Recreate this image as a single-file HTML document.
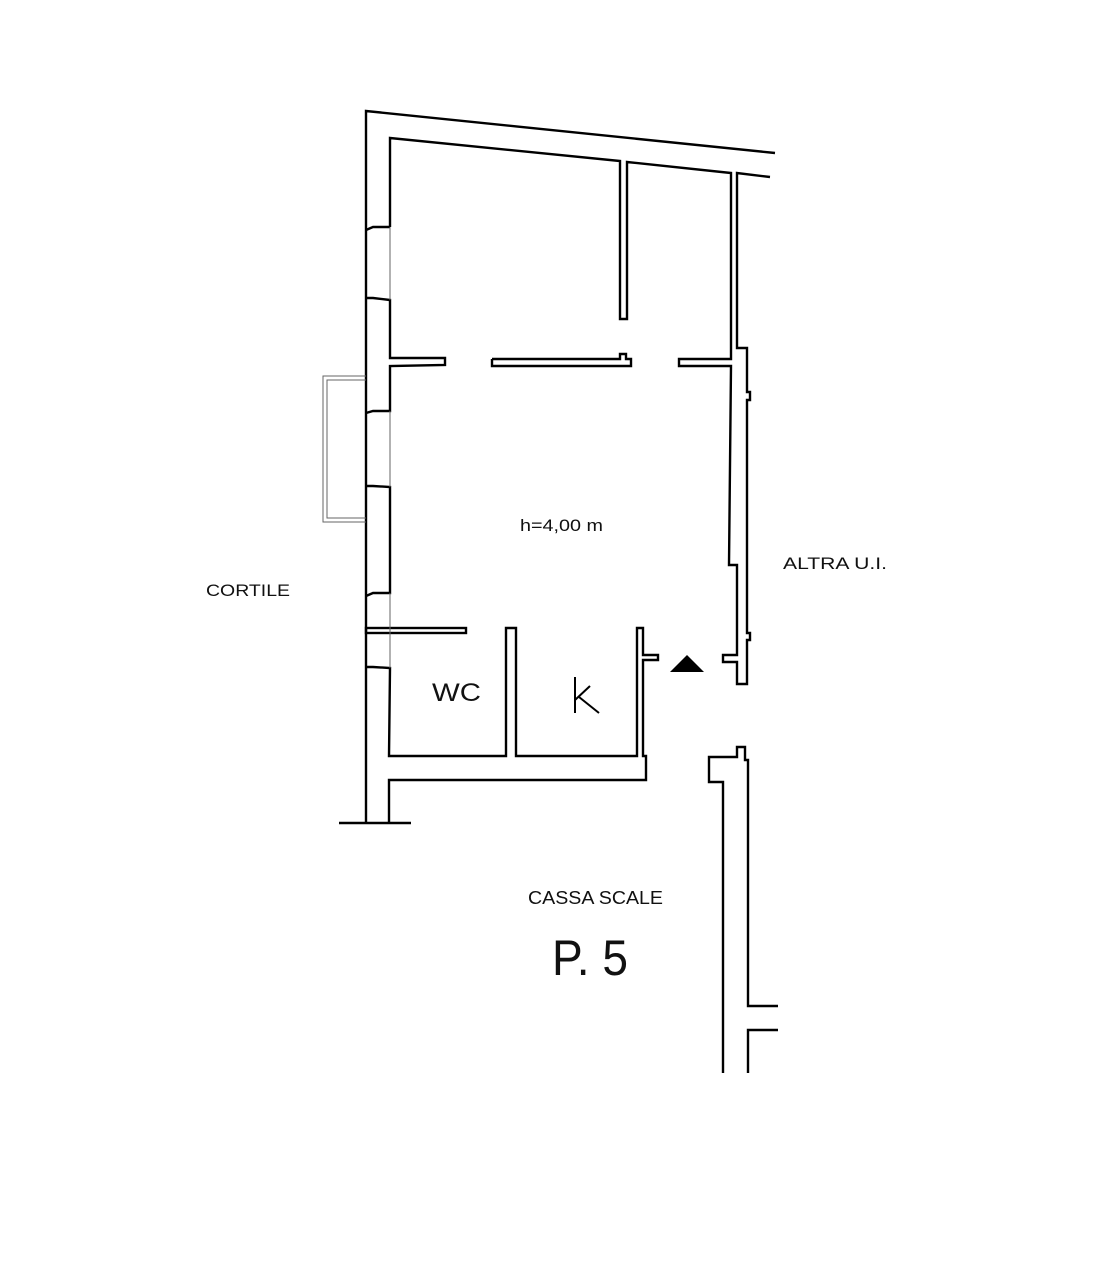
<!DOCTYPE html>
<html><head><meta charset="utf-8"><style>
html,body{margin:0;padding:0;background:#fff;}
svg{display:block;}
text{font-family:"Liberation Sans",sans-serif;fill:#111;}
</style></head><body>
<svg width="1107" height="1269" viewBox="0 0 1107 1269" xmlns="http://www.w3.org/2000/svg">
<g fill="none" stroke="#000" stroke-width="2.4" stroke-linejoin="miter">
<polyline points="775,153 366,111 366,823"/>
<line x1="339" y1="823" x2="411" y2="823"/>
<polyline points="390,227 390,138 620,161 620,319 627,319 627,162 731,173 731,359 679,359 679,366 731,366 729,565 737,565 737,655 723,655 723,662 737,662 737,684 747,684 747,640 750,640 750,633 747,633 747,400 750,400 750,392 747,392 747,348 737,348 737,173 770,177"/>
<polyline points="366,230 373,227 390,227"/>
<polyline points="366,298 373,298 390,300 390,358 445,358 445,365 390,366 390,411 373,411 366,413"/>
<polyline points="366,486 373,486 390,487 390,593 373,593 366,596"/>
<polyline points="366,667 373,667 390,668 389,756 506,756 506,628 516,628 516,756 637,756 637,628 643,628 643,655 658,655 658,660 643,660 643,756 646,756 646,780 389,780 389,823"/>
<rect x="366" y="628" width="100" height="5"/>
<polyline points="492,359 620,359 620,354 626,354 626,359 631,359 631,366 492,366 492,359"/>
<polyline points="723,1073 723,782 709,782 709,757 737,757 737,747 745,747 745,760 748,760 748,1006 778,1006"/>
<polyline points="778,1030 748,1030 748,1073"/>
</g>
<g fill="none" stroke="#666" stroke-width="1">
<line x1="390" y1="227" x2="390" y2="300"/>
<line x1="390" y1="411" x2="390" y2="487"/>
<line x1="390" y1="593" x2="390" y2="668"/>
<polyline points="366,376 323,376 323,522 366,522"/>
<polyline points="366,380 327,380 327,518 366,518"/>
</g>
<polygon points="687,655 670,672 704,672" fill="#000"/>
<text x="520" y="531" font-size="17" textLength="83" lengthAdjust="spacingAndGlyphs">h=4,00 m</text>
<text x="206" y="596" font-size="17" textLength="84" lengthAdjust="spacingAndGlyphs">CORTILE</text>
<text x="783" y="569" font-size="17" textLength="104" lengthAdjust="spacingAndGlyphs">ALTRA U.I.</text>
<text x="432" y="701" font-size="25" textLength="49" lengthAdjust="spacingAndGlyphs">WC</text>
<g stroke="#000" stroke-width="2" fill="none">
<line x1="575" y1="677" x2="575" y2="713"/>
<line x1="575" y1="700" x2="590" y2="686"/>
<line x1="579" y1="697" x2="599" y2="713"/>
</g>
<text x="528" y="904" font-size="18" textLength="135" lengthAdjust="spacingAndGlyphs">CASSA SCALE</text>
<text x="552" y="975" font-size="50" textLength="76" lengthAdjust="spacingAndGlyphs">P. 5</text>
</svg>
</body></html>
